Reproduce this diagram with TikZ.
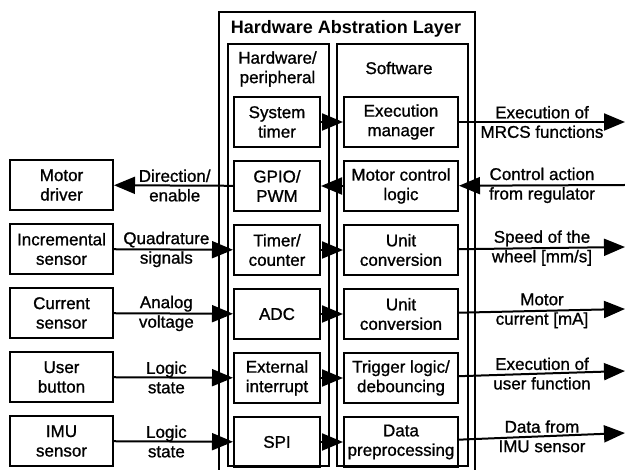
\documentclass[tikz,border=0pt]{standalone}
\usepackage{fontspec}
\setmainfont{Liberation Sans}
\newfontfamily\bodyfont{Liberation Sans}[RawFeature={embolden=1}]
\usetikzlibrary{arrows.meta, positioning}

\tikzset{
  txt/.style={font=\bodyfont\fontsize{17}{19.5}\selectfont, align=center, inner sep=0pt},
  box/.style={txt, draw, line width=2pt, minimum height=50pt},
  hwbox/.style={box, minimum width=86pt},
  swbox/.style={box, minimum width=114pt},
  devbox/.style={box, minimum width=103pt},
  frame/.style={draw, line width=2pt, anchor=north west, inner sep=0pt},
  sig/.style={line width=2pt, -{Triangle[length=21pt,width=17pt]}}
}

\begin{document}
\begin{tikzpicture}[x=1pt, y=1pt]
    \useasboundingbox (0,0) rectangle (625,-470);
    \clip (0,0) rectangle (625,-470);

    % layer frames
    \node[frame, minimum width=256pt, minimum height=470pt] (hal) at (218,-11) {};
    \node[frame, minimum width=101pt, minimum height=422pt] (hwcol) at (227,-43) {};
    \node[frame, minimum width=131pt, minimum height=422pt] (swcol) at (336,-43) {};
    \node[txt, font=\fontsize{18}{20}\selectfont\bfseries] (title) at (346,-29) {Hardware Abstration Layer};
    \node[txt] (hwtitle) at (277.5,-69) {Hardware/\\peripheral};
    \node[txt] (swtitle) at (399,-68) {Software};

    % hardware / peripheral column
    \node[hwbox] (timer) at (277,-122) {System\\timer};
    \node[hwbox, below=12pt of timer] (gpio) {GPIO/\\PWM};
    \node[hwbox, below=12pt of gpio] (counter) {Timer/\\counter};
    \node[hwbox, below=12pt of counter] (adc) {ADC};
    \node[hwbox, below=12pt of adc] (extint) {External\\interrupt};
    \node[hwbox, below=12pt of extint] (spi) {SPI};

    % software column
    \node[swbox] (exec) at (401,-122) {Execution\\manager};
    \node[swbox, below=12pt of exec] (motlogic) {Motor control\\logic};
    \node[swbox, below=12pt of motlogic] (conv1) {Unit\\conversion};
    \node[swbox, below=12pt of conv1] (conv2) {Unit\\conversion};
    \node[swbox, below=12pt of conv2] (trigger) {Trigger logic/\\debouncing};
    \node[swbox, below=12pt of trigger] (prep) {Data\\preprocessing};

    % external devices
    \node[devbox] (driver) at (61.5,-185) {Motor\\driver};
    \node[devbox, below=12pt of driver] (encoder) {Incremental\\sensor};
    \node[devbox, below=12pt of encoder] (cursens) {Current\\sensor};
    \node[devbox, below=12pt of cursens] (button) {User\\button};
    \node[devbox, below=12pt of button] (imu) {IMU\\sensor};

    % free ends on the right
    \coordinate (out1) at (625,-122);
    \coordinate (in2) at (625,-185);
    \coordinate (out3) at (625,-247);
    \coordinate (out4) at (625,-309);
    \coordinate (out5) at (625,-371);
    \coordinate (out6) at (625,-433);

    % devices <-> hardware
    \draw[sig] (gpio) -- node[txt, pos=0.49] {Direction/\\enable} (driver);
    \draw[sig] (encoder) -- node[txt, pos=0.44] {Quadrature\\signals} (counter);
    \draw[sig] (cursens) -- node[txt, pos=0.44] {Analog\\voltage} (adc);
    \draw[sig] (button) -- node[txt, pos=0.44] {Logic\\state} (extint);
    \draw[sig] (imu) -- node[txt, pos=0.44] {Logic\\state} (spi);

    % hardware <-> software
    \draw[sig] (timer) -- (exec);
    \draw[sig] (motlogic) -- (gpio);
    \draw[sig] (counter) -- (conv1);
    \draw[sig] (adc) -- (conv2);
    \draw[sig] (extint) -- (trigger);
    \draw[sig] (spi) -- (prep);

    % software <-> application
    \draw[sig] (exec) -- node[txt] {Execution of\\MRCS functions} (out1);
    \draw[sig] (in2) -- node[txt] {Control action\\from regulator} (motlogic);
    \draw[sig] (conv1) -- node[txt] {Speed of the\\wheel [mm/s]} (out3);
    \draw[sig] (conv2) -- node[txt] {Motor\\current [mA]} (out4);
    \draw[sig] (trigger) -- node[txt] {Execution of\\user function} (out5);
    \draw[sig] (prep) -- node[txt] {Data from\\IMU sensor} (out6);
\end{tikzpicture}
\end{document}
